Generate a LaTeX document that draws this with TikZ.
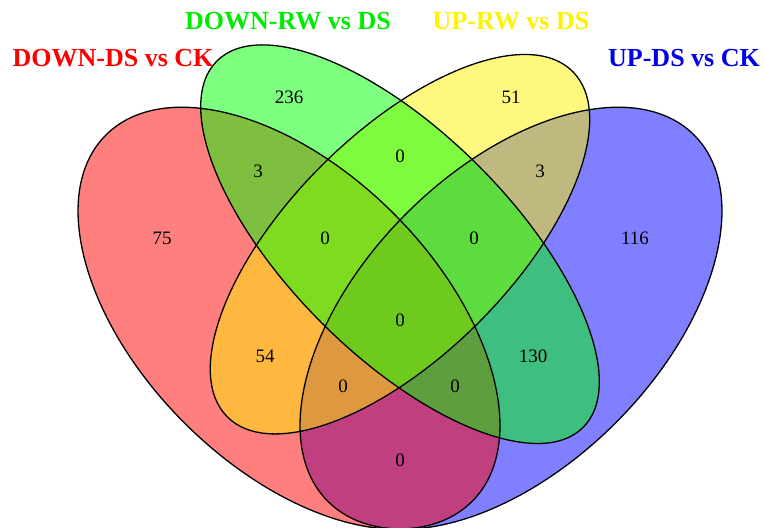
\documentclass[tikz,border=0pt]{standalone}
\usepackage{fontspec}
\setmainfont{Liberation Serif}
\definecolor{labgreen}{RGB}{0,235,0}
\definecolor{labblue}{RGB}{0,0,230}
\begin{document}
\begin{tikzpicture}[x=1pt,y=1pt,
  setfill/.style={fill=#1, fill opacity=0.5},
  outline/.style={draw=black, line width=1.3pt},
  setlabel/.style={font=\fontsize{26}{28}\selectfont\bfseries, text=#1, inner sep=0pt, anchor=base},
  count/.style={font=\fontsize{19}{21}\selectfont, inner sep=0pt}]
\useasboundingbox (0,0) rectangle (764,528);
% centres
\coordinate (cR) at (289,209.8);
\coordinate (cG) at (400,283.8);
\coordinate (cY) at (400,283.8);
\coordinate (cB) at (511,209.8);
% fills (order gives the blended colours)
\fill[setfill=blue, rotate around={45:(cB)}] (cB) ellipse [x radius=259pt, y radius=148pt];
\fill[setfill=red, rotate around={135:(cR)}] (cR) ellipse [x radius=259pt, y radius=148pt];
\fill[setfill=yellow, rotate around={45:(cY)}] (cY) ellipse [x radius=244.2pt, y radius=111pt];
\fill[setfill=green, rotate around={135:(cG)}] (cG) ellipse [x radius=259pt, y radius=111pt];
% outlines
\draw[outline, rotate around={45:(cB)}] (cB) ellipse [x radius=259pt, y radius=148pt];
\draw[outline, rotate around={135:(cR)}] (cR) ellipse [x radius=259pt, y radius=148pt];
\draw[outline, rotate around={45:(cY)}] (cY) ellipse [x radius=244.2pt, y radius=111pt];
\draw[outline, rotate around={135:(cG)}] (cG) ellipse [x radius=259pt, y radius=111pt];
% set labels
\node[setlabel=red] (lR) at (113,461) {DOWN-DS vs CK};
\node[setlabel=labgreen] (lG) at (288,498) {DOWN-RW vs DS};
\node[setlabel=yellow] (lY) at (511,498) {UP-RW vs DS};
\node[setlabel=labblue] (lB) at (684,461) {UP-DS vs CK};
% counts
\node[count] (n1) at (289,431) {236};
\node[count] (n2) at (511,431) {51};
\node[count] (n3) at (258,357) {3};
\node[count] (n4) at (400,372) {0};
\node[count] (n5) at (540,357) {3};
\node[count] (n6) at (162,290) {75};
\node[count] (n7) at (325,290) {0};
\node[count] (n8) at (474,290) {0};
\node[count] (n9) at (635,290) {116};
\node[count] (n10) at (400,208) {0};
\node[count] (n11) at (265,172) {54};
\node[count] (n12) at (533,172) {130};
\node[count] (n13) at (343,142) {0};
\node[count] (n14) at (455,142) {0};
\node[count] (n15) at (400,68) {0};
\end{tikzpicture}
\end{document}
